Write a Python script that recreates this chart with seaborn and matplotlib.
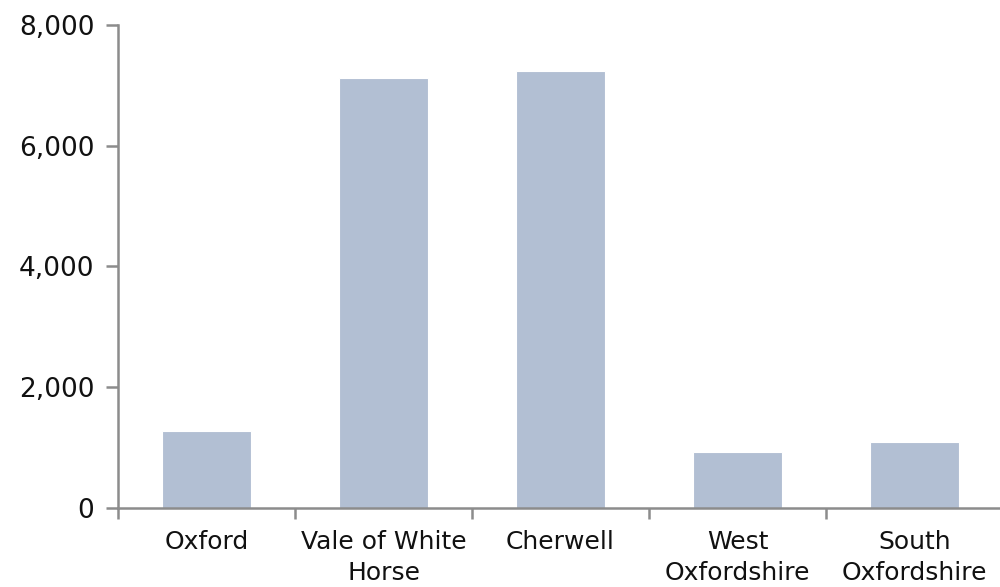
import matplotlib
matplotlib.use("Agg")
import matplotlib.pyplot as plt
import seaborn as sns
import pandas as pd
from matplotlib.ticker import FuncFormatter, FixedLocator

districts = ["Oxford", "Vale of White\nHorse", "Cherwell", "West\nOxfordshire", "South\nOxfordshire"]
values = [1270, 7130, 7240, 930, 1095]
y_ticks = [0, 2000, 4000, 6000, 8000]

sns.set_theme(style="white")
plt.rcParams["font.family"] = ["DejaVu Sans"]

df = pd.DataFrame({"district": districts, "value": values})

fig = plt.figure(figsize=(10, 5.87), dpi=100)
ax = fig.add_axes([0.118, 0.1349, 0.885, 0.8225])

sns.barplot(data=df, x="district", y="value", color="#B2BFD3", saturation=1,
            width=0.5, edgecolor="white", linewidth=0.8, ax=ax)

axis_grey = "#8C8C8C"
ax.set_ylim(0, 8000)
ax.set_xlim(-0.5, len(districts) - 0.5)
ax.set_yticks(y_ticks)
ax.yaxis.set_major_formatter(FuncFormatter(lambda v, _: f"{int(v):,}"))
ax.set_xlabel("")
ax.set_ylabel("")

for side in ["top", "right"]:
    ax.spines[side].set_visible(False)
for side in ["left", "bottom"]:
    ax.spines[side].set_color(axis_grey)
    ax.spines[side].set_linewidth(1.8)

ax.tick_params(axis="y", which="major", length=9, width=1.8, color=axis_grey,
               left=True, labelsize=19, labelcolor="#111111", pad=8)
ax.tick_params(axis="x", which="major", length=0, labelsize=18, labelcolor="#111111", pad=16)
for lbl in ax.get_xticklabels():
    lbl.set_linespacing(1.35)
ax.xaxis.set_minor_locator(FixedLocator([i - 0.5 for i in range(len(districts) + 1)]))
ax.tick_params(axis="x", which="minor", length=8, width=1.8, color=axis_grey, bottom=True)

fig.savefig("out.png", dpi=100)
